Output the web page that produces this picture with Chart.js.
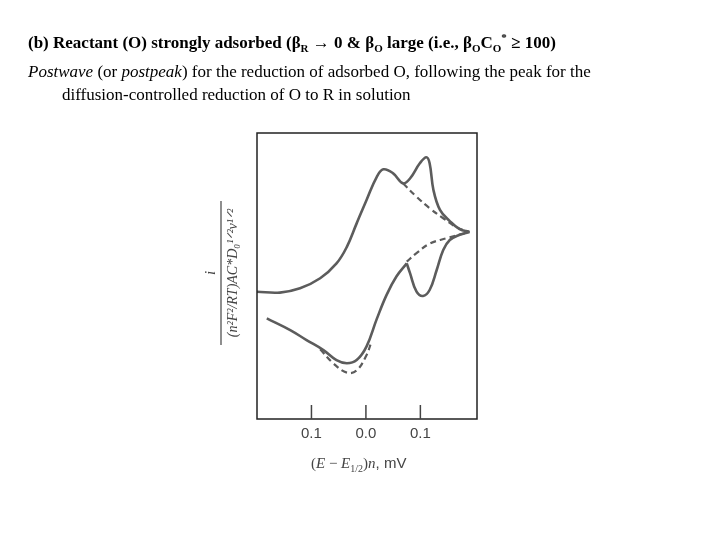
<!DOCTYPE html>
<html><head><meta charset="utf-8">
<script src="https://cdn.jsdelivr.net/npm/chart.js@4.4.0/dist/chart.umd.min.js"></script>
<style>
body{margin:0;background:#fff;width:720px;height:540px;overflow:hidden;position:relative;font-family:"Liberation Serif","Times New Roman",serif;}
#t{position:absolute;left:28px;top:26px;font-size:17px;line-height:23px;color:#000;}
#t .ind{padding-left:34px;}
#c{position:absolute;left:0;top:0;}
</style></head><body>
<canvas id="c" width="720" height="540"></canvas>
<div id="t">
<div><b>(b) Reactant (O) strongly adsorbed (β<sub style="font-size:11px">R</sub> → 0 &amp; β<sub style="font-size:11px">O</sub> large (i.e., β<sub style="font-size:11px">O</sub>C<sub style="font-size:11px">O</sub><sup style="font-size:11px">*</sup> ≥ 100)</b></div>
<div><i>Postwave</i> (or <i>postpeak</i>) for the reduction of adsorbed O, following the peak for the</div>
<div class="ind">diffusion-controlled reduction of O to R in solution</div>
</div>
<script>
// forward (cathodic) scan, solid
const fwdE = [-0.200,-0.158,-0.121,-0.084,-0.054,-0.035,-0.017,0.001,0.020,0.032,0.050,0.068,0.081,0.099,0.111,0.117,0.124,0.136,0.154,0.172,0.190];
const fwdI = [44.5,44.2,45.7,49.2,54.4,60.2,68.4,76.5,84.7,87.3,85.9,82.4,84.1,89.4,91.5,89.4,80.1,73.1,69.2,66.4,65.4];
// forward without adsorption, dashed
const fwdDashE = [0.068,0.093,0.117,0.142,0.166,0.190];
const fwdDashI = [82.4,77.7,73.7,70.2,67.1,65.4];
// reverse scan, solid (postpeak part)
const revPostE = [0.075,0.081,0.093,0.105,0.117,0.130,0.142,0.154,0.172,0.190];
const revPostI = [54.4,51.0,44.5,43.0,45.1,52.1,59.1,62.6,64.4,65.4];
// reverse scan, solid (main wave)
const revE = [-0.182,-0.139,-0.109,-0.078,-0.054,-0.035,-0.017,0.001,0.020,0.038,0.056,0.075];
const revI = [35.2,31.1,27.6,24.1,20.6,19.5,20.6,25.3,35.0,43.4,49.8,54.4];
// reverse without adsorption, dashed
const revDashE = [0.075,0.093,0.117,0.148,0.190];
const revDashI = [55.0,58.0,61.3,63.2,65.4];
const revDashMinE = [-0.084,-0.060,-0.035,-0.017,0.001,0.010];
const revDashMinI = [24.4,19.5,16.2,17.0,22.3,26.9];
// tick positions and their labels
const tickVals = [-0.1,0.0,0.1];
const tickLabels = ['0.1','0.0','0.1'];

const pts = (xs, ys) => xs.map((x, i) => ({x: x, y: ys[i]}));
const curve = '#5c5c5c';
function ds(xs, ys, dashed) {
  return {data: pts(xs, ys), borderColor: curve, borderWidth: dashed ? 2.2 : 2.6,
    borderDash: dashed ? [6, 4] : [], pointRadius: 0, tension: 0.4, fill: false};
}

const frame = {
  id: 'frame',
  afterDraw(chart) {
    const {ctx, chartArea: a, scales: {x}} = chart;
    ctx.save();
    ctx.strokeStyle = '#222';
    ctx.lineWidth = 1.5;
    ctx.strokeRect(a.left, a.top, a.right - a.left, a.bottom - a.top);
    ctx.fillStyle = '#444';
    ctx.strokeStyle = '#444';
    ctx.font = '15px "Liberation Sans", Arial, sans-serif';
    ctx.textAlign = 'center';
    tickVals.forEach((v, i) => {
      const px = x.getPixelForValue(v);
      ctx.beginPath(); ctx.moveTo(px, a.bottom); ctx.lineTo(px, a.bottom - 14); ctx.stroke();
      ctx.fillText(tickLabels[i], px, a.bottom + 19);
    });
    // x axis title
    ctx.textAlign = 'left';
    let cx = 311, cy = 468;
    const seg = (s, f, dy) => { ctx.font = f; ctx.fillText(s, cx, cy + (dy || 0)); cx += ctx.measureText(s).width; };
    seg('(', '15px "Liberation Serif", serif');
    seg('E', 'italic 15px "Liberation Serif", serif');
    seg(' − ', '15px "Liberation Serif", serif');
    seg('E', 'italic 15px "Liberation Serif", serif');
    seg('1/2', '10px "Liberation Serif", serif', 4);
    seg(')', '15px "Liberation Serif", serif');
    seg('n', 'italic 15px "Liberation Serif", serif');
    seg(', mV', '15px "Liberation Sans", Arial, sans-serif');
    // y axis title (rotated fraction)
    ctx.translate(221, 273);
    ctx.rotate(-Math.PI / 2);
    ctx.textAlign = 'center';
    ctx.font = 'italic 15px "Liberation Serif", serif';
    ctx.fillText('i', 0, -6);
    ctx.beginPath(); ctx.moveTo(-72, 0); ctx.lineTo(72, 0); ctx.lineWidth = 1.2; ctx.stroke();
    ctx.font = 'italic 14px "Liberation Serif", serif';
    ctx.fillText('(n²F²/RT)AC*D₀¹ᐟ²v¹ᐟ²', 0, 16);
    ctx.restore();
  }
};

new Chart(document.getElementById('c'), {
  type: 'scatter',
  data: {datasets: [
    ds(fwdDashE, fwdDashI, true), ds(revDashE, revDashI, true), ds(revDashMinE, revDashMinI, true),
    ds(fwdE, fwdI, false), ds(revPostE, revPostI, false), ds(revE, revI, false)
  ].map(d => Object.assign(d, {showLine: true}))},
  options: {
    responsive: false, animation: false,
    layout: {padding: {left: 257, top: 133, right: 243, bottom: 121}},
    scales: {x: {type: 'linear', min: -0.2, max: 0.204, display: false},
             y: {type: 'linear', min: 0, max: 100, display: false}},
    plugins: {legend: {display: false}, tooltip: {enabled: false}}
  },
  plugins: [frame]
});
</script>
</body></html>
